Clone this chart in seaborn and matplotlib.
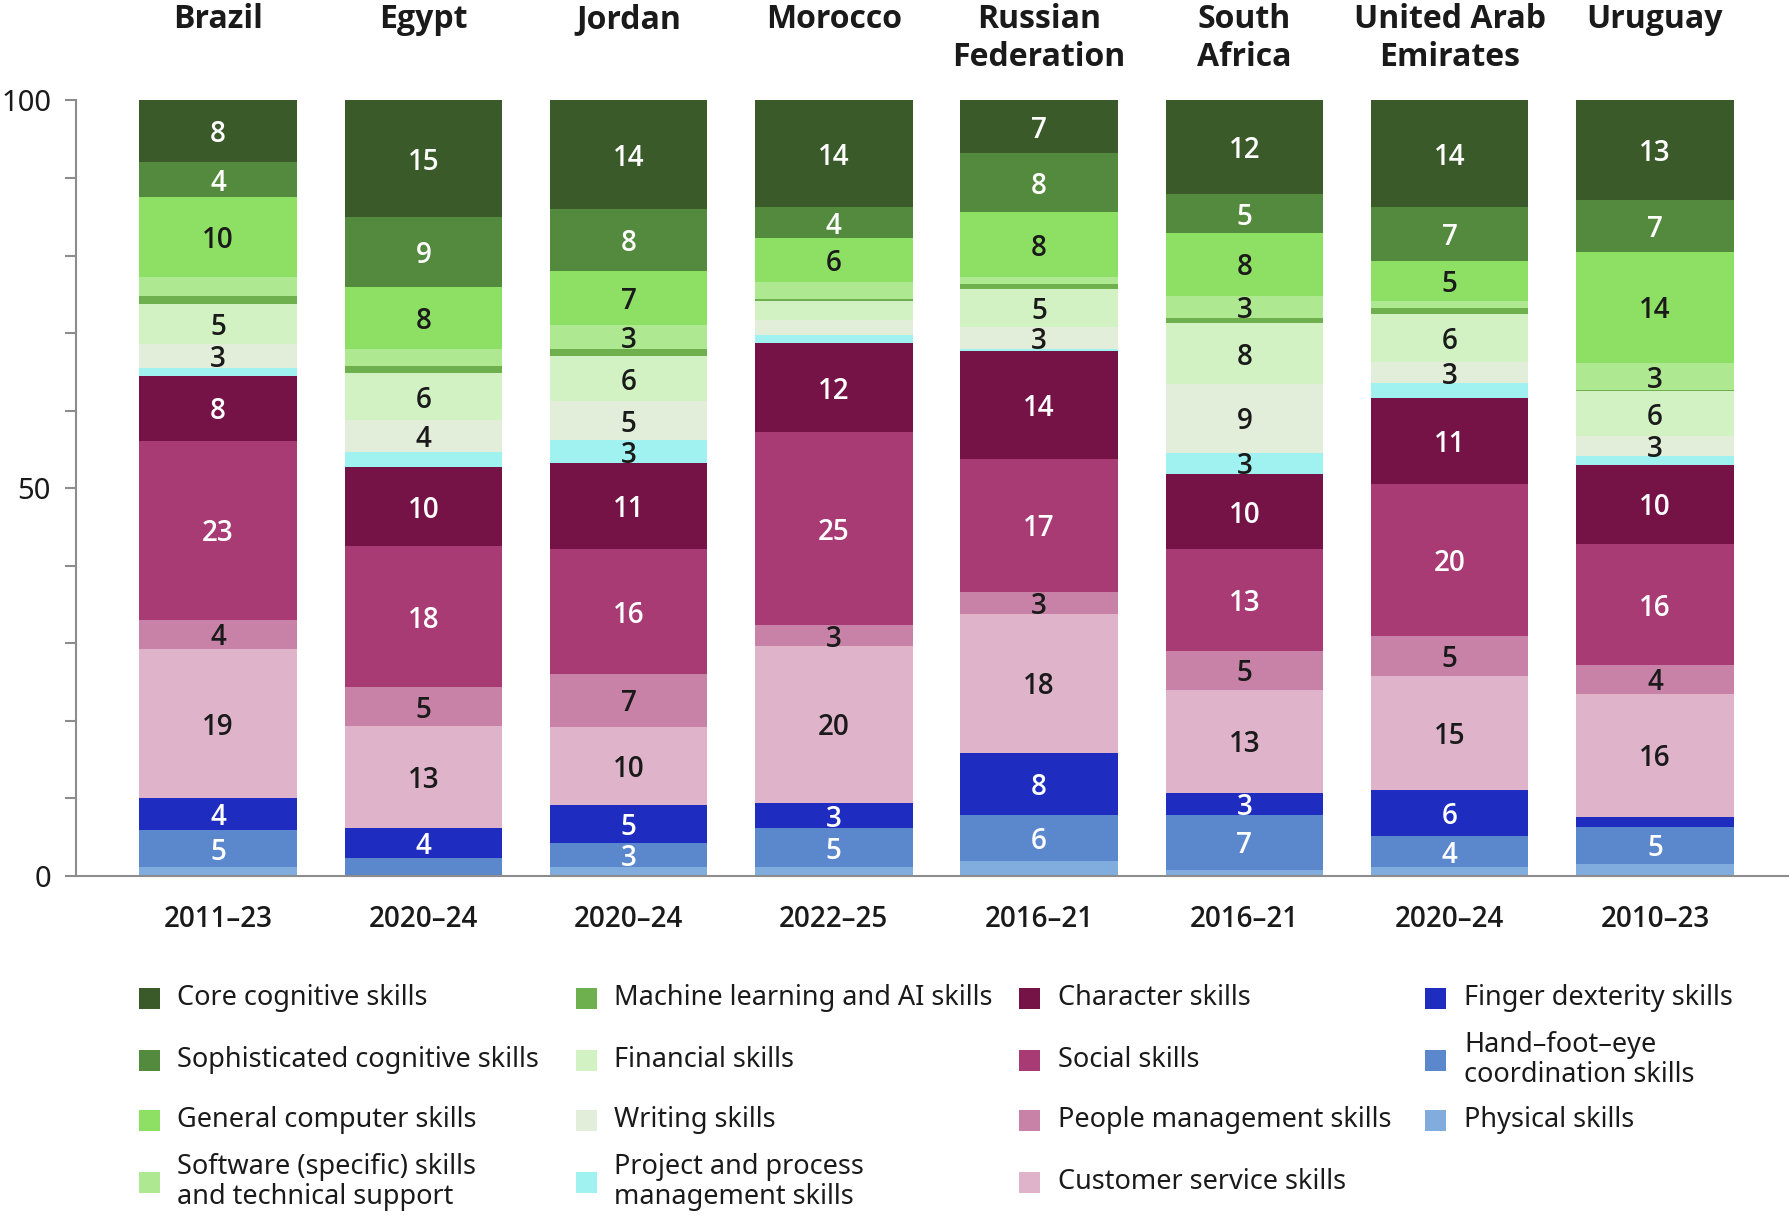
import numpy as np
import pandas as pd
import matplotlib
matplotlib.use("Agg")
import matplotlib.pyplot as plt
from matplotlib.patches import Rectangle
from matplotlib.transforms import blended_transform_factory
import seaborn as sns

# ---------------- data ----------------
countries = ["Brazil", "Egypt", "Jordan", "Morocco", "Russian\nFederation",
             "South\nAfrica", "United Arab\nEmirates", "Uruguay"]
periods = ["2011–23", "2020–24", "2020–24", "2022–25", "2016–21",
           "2016–21", "2020–24", "2010–23"]

skills = ["Core cognitive skills", "Sophisticated cognitive skills",
          "General computer skills", "Software (specific) skills\nand technical support",
          "Machine learning and AI skills", "Financial skills", "Writing skills",
          "Project and process\nmanagement skills", "Character skills", "Social skills",
          "People management skills", "Customer service skills",
          "Finger dexterity skills", "Hand–foot–eye\ncoordination skills", "Physical skills"]

core      = [8.0, 15.0, 14.0, 13.7, 6.8, 12.1, 13.7, 12.9]
soph      = [4.4, 9.1, 8.0, 4.1, 7.6, 5.0, 7.0, 6.7]
general   = [10.4, 8.0, 7.0, 5.6, 8.4, 8.1, 5.1, 14.4]
software  = [2.4, 2.2, 3.0, 2.2, 0.9, 2.9, 1.0, 3.4]
ml_ai     = [1.0, 0.9, 1.0, 0.3, 0.6, 0.6, 0.8, 0.2]
financial = [5.2, 6.0, 5.8, 2.4, 4.9, 7.9, 6.1, 5.8]
writing   = [3.1, 4.1, 5.0, 2.0, 2.8, 8.8, 2.8, 2.6]
project   = [1.0, 2.0, 3.0, 1.0, 0.3, 2.8, 1.9, 1.1]
character = [8.4, 10.2, 11.1, 11.5, 13.9, 9.7, 11.0, 10.2]
social    = [23.1, 18.1, 16.0, 24.9, 17.2, 13.1, 19.7, 15.6]
people    = [3.7, 5.1, 6.9, 2.6, 2.8, 5.0, 5.1, 3.7]
customer  = [19.3, 13.1, 10.0, 20.3, 17.9, 13.3, 14.7, 15.9]
finger    = [4.1, 3.9, 5.0, 3.2, 8.0, 2.8, 6.0, 1.3]
hand      = [4.8, 2.3, 3.1, 5.1, 6.0, 7.1, 4.0, 4.7]
physical  = [1.1, 0.0, 1.1, 1.1, 1.9, 0.8, 1.1, 1.6]

series = [core, soph, general, software, ml_ai, financial, writing, project,
          character, social, people, customer, finger, hand, physical]

colors = ["#3a5a29", "#548a3e", "#8ee065", "#aee890", "#6fb04e", "#d2f2c4",
          "#e2eed9", "#9ff2f0", "#751246", "#a83b74", "#c982a7", "#dfb4ca",
          "#1e2cbf", "#5b87cc", "#80addd"]
white_label = [True, True, False, False, False, False, False, False,
               True, True, False, False, True, True, False]

# ---------------- style ----------------
sns.set_theme(style="white")
plt.rcParams["font.family"] = ["Noto Sans", "DejaVu Sans"]
BOLD = ["Open Sans", "Noto Sans", "DejaVu Sans"]
TXT = "#1a1a1a"
GRAY = "#8c8c8c"

W, H = 1789, 1216
fig = plt.figure(figsize=(W / 100, H / 100), dpi=100)
ax = fig.add_axes([76 / W, 1 - 876 / H, 1 - 76 / W, (876 - 100.4) / H])

vals = np.array(series, dtype=float)          # top-to-bottom order
cum_top = np.cumsum(vals[::-1], axis=0)[::-1]  # top edge of each segment

for i, skill in enumerate(skills):
    df = pd.DataFrame({"country": countries, "top": cum_top[i]})
    sns.barplot(data=df, x="country", y="top", order=countries, color=colors[i],
                saturation=1, width=0.767, linewidth=0, errorbar=None, ax=ax)

for i in range(len(skills)):
    for j in range(len(countries)):
        v = vals[i, j]
        if v >= 2.5:
            ax.text(j, cum_top[i, j] - v / 2, f"{int(round(v))}", ha="center",
                    va="center_baseline", fontsize=20, fontweight="semibold",
                    family=BOLD, color="white" if white_label[i] else TXT)

ax.set_xlim(-0.692, 7.653)
ax.set_ylim(0, 100)
ax.set_xlabel("")
ax.set_ylabel("")
ax.set_xticks(range(len(countries)))
ax.set_xticklabels(periods, fontsize=20, fontweight="semibold", family=BOLD, color=TXT)
ax.tick_params(axis="x", length=0, pad=21)
ax.set_yticks([0, 50, 100])
ax.set_yticks(np.arange(0, 101, 10), minor=True)
ax.set_yticklabels(["0", "50", "100"], fontsize=21, color=TXT)
ax.tick_params(axis="y", which="both", left=True, length=8, width=1.5,
               color=GRAY, direction="out", pad=10)
for s in ["top", "right"]:
    ax.spines[s].set_visible(False)
for s in ["left", "bottom"]:
    ax.spines[s].set_color(GRAY)
    ax.spines[s].set_linewidth(1.5)

# country names on top
trans = blended_transform_factory(ax.transData, fig.transFigure)
for j, name in enumerate(countries):
    ax.text(j, 1 - 3 / H, name, ha="center", va="top", fontsize=23,
            fontweight="bold", family=BOLD, color=TXT, linespacing=1.2,
            transform=trans)

# legend (4 columns, column-major)
marker_x = [139, 576, 1019, 1425]
text_x = [177, 614, 1058, 1464]
row_y = [998, 1060, 1120, 1182]
msz = 21
for idx, skill in enumerate(skills):
    c, r = idx // 4, idx % 4
    fig.add_artist(Rectangle((marker_x[c] / W, 1 - (row_y[r] + msz / 2) / H),
                             msz / W, msz / H, transform=fig.transFigure,
                             facecolor=colors[idx], edgecolor="none"))
    fig.text(text_x[c] / W, 1 - row_y[r] / H, skill, ha="left", va="center",
             fontsize=19.5, color=TXT, linespacing=1.08)

fig.savefig("out.png", dpi=100)
